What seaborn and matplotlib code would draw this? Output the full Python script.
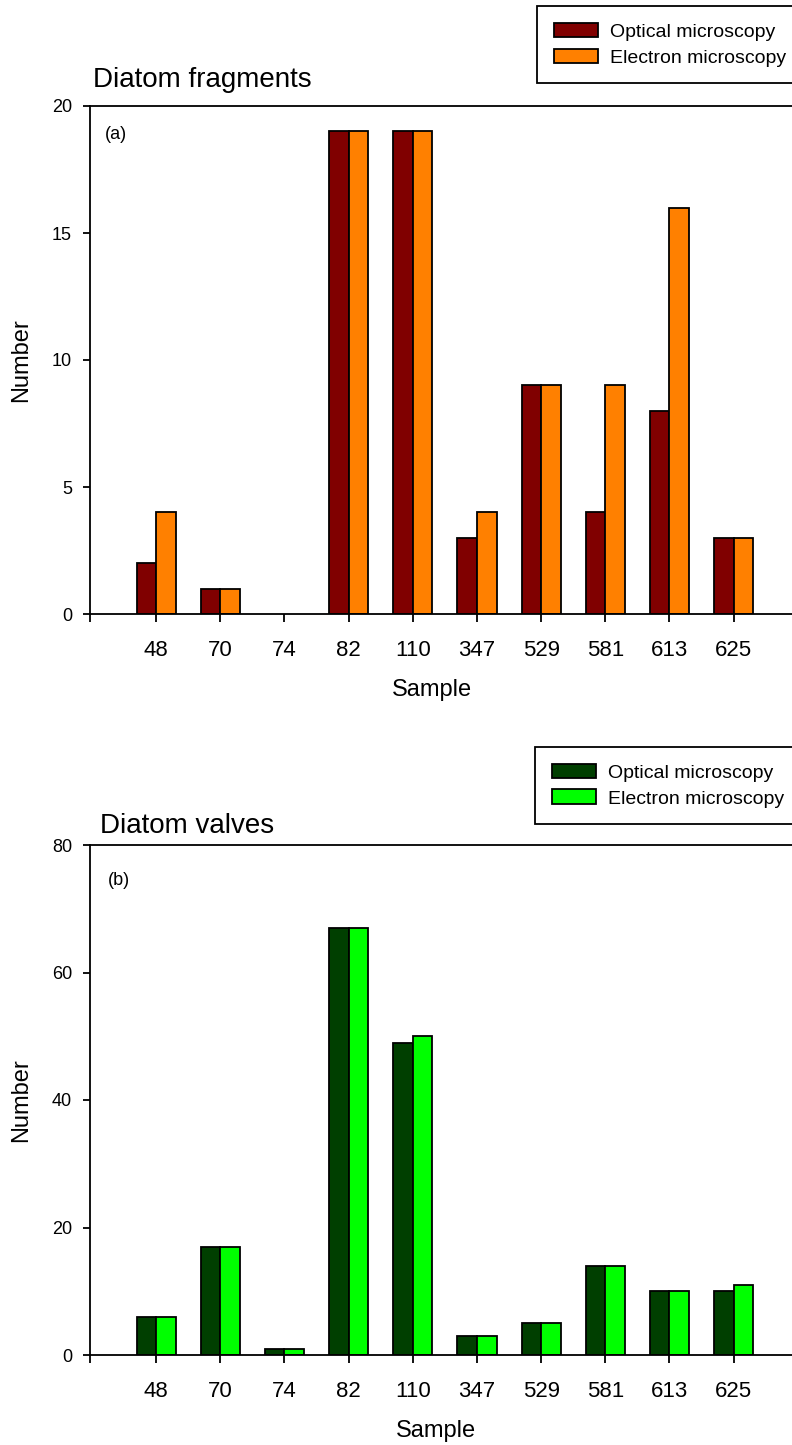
import matplotlib
matplotlib.use("Agg")
import matplotlib.pyplot as plt
import pandas as pd
import seaborn as sns

# --- data
samples = ["48", "70", "74", "82", "110", "347", "529", "581", "613", "625"]
series = ["Optical microscopy", "Electron microscopy"]

fragments_optical = [2, 1, 0, 19, 19, 3, 9, 4, 8, 3]
fragments_electron = [4, 1, 0, 19, 19, 4, 9, 9, 16, 3]

valves_optical = [6, 17, 1, 67, 49, 3, 5, 14, 10, 10]
valves_electron = [6, 17, 1, 67, 50, 3, 5, 14, 10, 11]

fragment_yticks = [0, 5, 10, 15, 20]
valve_yticks = [0, 20, 40, 60, 80]

sns.set_style("ticks")
plt.rcParams["font.family"] = ["Liberation Sans", "DejaVu Sans"]
plt.rcParams["text.color"] = "black"
plt.rcParams["axes.labelcolor"] = "black"


def long_table(optical, electron):
    rows = []
    for s, o, e in zip(samples, optical, electron):
        rows.append((s, series[0], o))
        rows.append((s, series[1], e))
    return pd.DataFrame(rows, columns=["Sample", "Method", "Number"])


def draw_panel(fig, ax, optical, electron, colors, yticks, title, tag,
               title_xy, tag_xy, legend_xy, xlabel_xy):
    df = long_table(optical, electron)
    sns.barplot(
        data=df,
        x="Sample",
        y="Number",
        hue="Method",
        order=samples,
        hue_order=series,
        palette=colors,
        width=0.61,
        edgecolor="black",
        linewidth=1.3,
        saturation=1,
        ax=ax,
    )

    # empty bars are not drawn in the original (no outline at zero)
    for container in ax.containers:
        for bar in container:
            if bar.get_height() == 0:
                bar.set_visible(False)

    ax.set_xlim(-1.03, 9.91)
    ax.set_ylim(yticks[0], yticks[-1])
    ax.set_yticks(yticks)
    ax.set_xticks(range(len(samples)))
    ax.set_xticklabels(samples)
    ax.set_xticks([-1.03], minor=True)

    for side in ["left", "bottom", "top"]:
        ax.spines[side].set_visible(True)
        ax.spines[side].set_linewidth(1.3)
        ax.spines[side].set_color("black")
    ax.spines["right"].set_visible(False)

    ax.tick_params(axis="x", which="both", direction="out", length=6, width=1.3,
                   pad=13, labelsize=16, colors="black")
    ax.tick_params(axis="y", direction="out", length=5, width=1.3,
                   pad=8, labelsize=13, colors="black")

    ax.set_xlabel("Sample", fontsize=17)
    ax.xaxis.set_label_coords(*xlabel_xy)
    ax.set_ylabel("Number", fontsize=17)
    ax.yaxis.set_label_coords(-0.0826, 0.5)

    ax.text(*tag_xy, tag, transform=ax.transAxes, fontsize=13,
            ha="left", va="center")
    fig.text(*title_xy, title, fontsize=20, ha="left", va="baseline")

    handles, labels = ax.get_legend_handles_labels()
    leg = ax.legend(
        handles,
        labels,
        loc="upper left",
        bbox_to_anchor=legend_xy,
        bbox_transform=fig.transFigure,
        fontsize=14,
        frameon=True,
        fancybox=False,
        borderpad=0.85,
        borderaxespad=0,
        handlelength=2.3,
        handleheight=0.8,
        handletextpad=0.6,
        labelspacing=0.4,
    )
    leg.get_frame().set_edgecolor("black")
    leg.get_frame().set_linewidth(1.3)
    leg.get_frame().set_alpha(None)
    leg.get_frame().set_facecolor("white")


W, H = 792, 1445
fig = plt.figure(figsize=(W / 100, H / 100), dpi=100)

ax_top = fig.add_axes([90 / W, 1 - 614 / H, (W - 90) / W, 508 / H])
ax_bot = fig.add_axes([90 / W, 1 - 1355 / H, (W - 90) / W, 510 / H])

draw_panel(
    fig, ax_top, fragments_optical, fragments_electron,
    ["#800000", "#FF8000"], fragment_yticks,
    "Diatom fragments", "(a)",
    title_xy=(93 / W, 1 - 87 / H),
    tag_xy=(0.021, 0.943),
    legend_xy=(537 / W, 1 - 6 / H),
    xlabel_xy=(0.487, -0.128),
)
draw_panel(
    fig, ax_bot, valves_optical, valves_electron,
    ["#003F00", "#00FF00"], valve_yticks,
    "Diatom valves", "(b)",
    title_xy=(100 / W, 1 - 833 / H),
    tag_xy=(0.026, 0.931),
    legend_xy=(535 / W, 1 - 747 / H),
    xlabel_xy=(0.493, -0.127),
)

fig.savefig("out.png", dpi=100)
